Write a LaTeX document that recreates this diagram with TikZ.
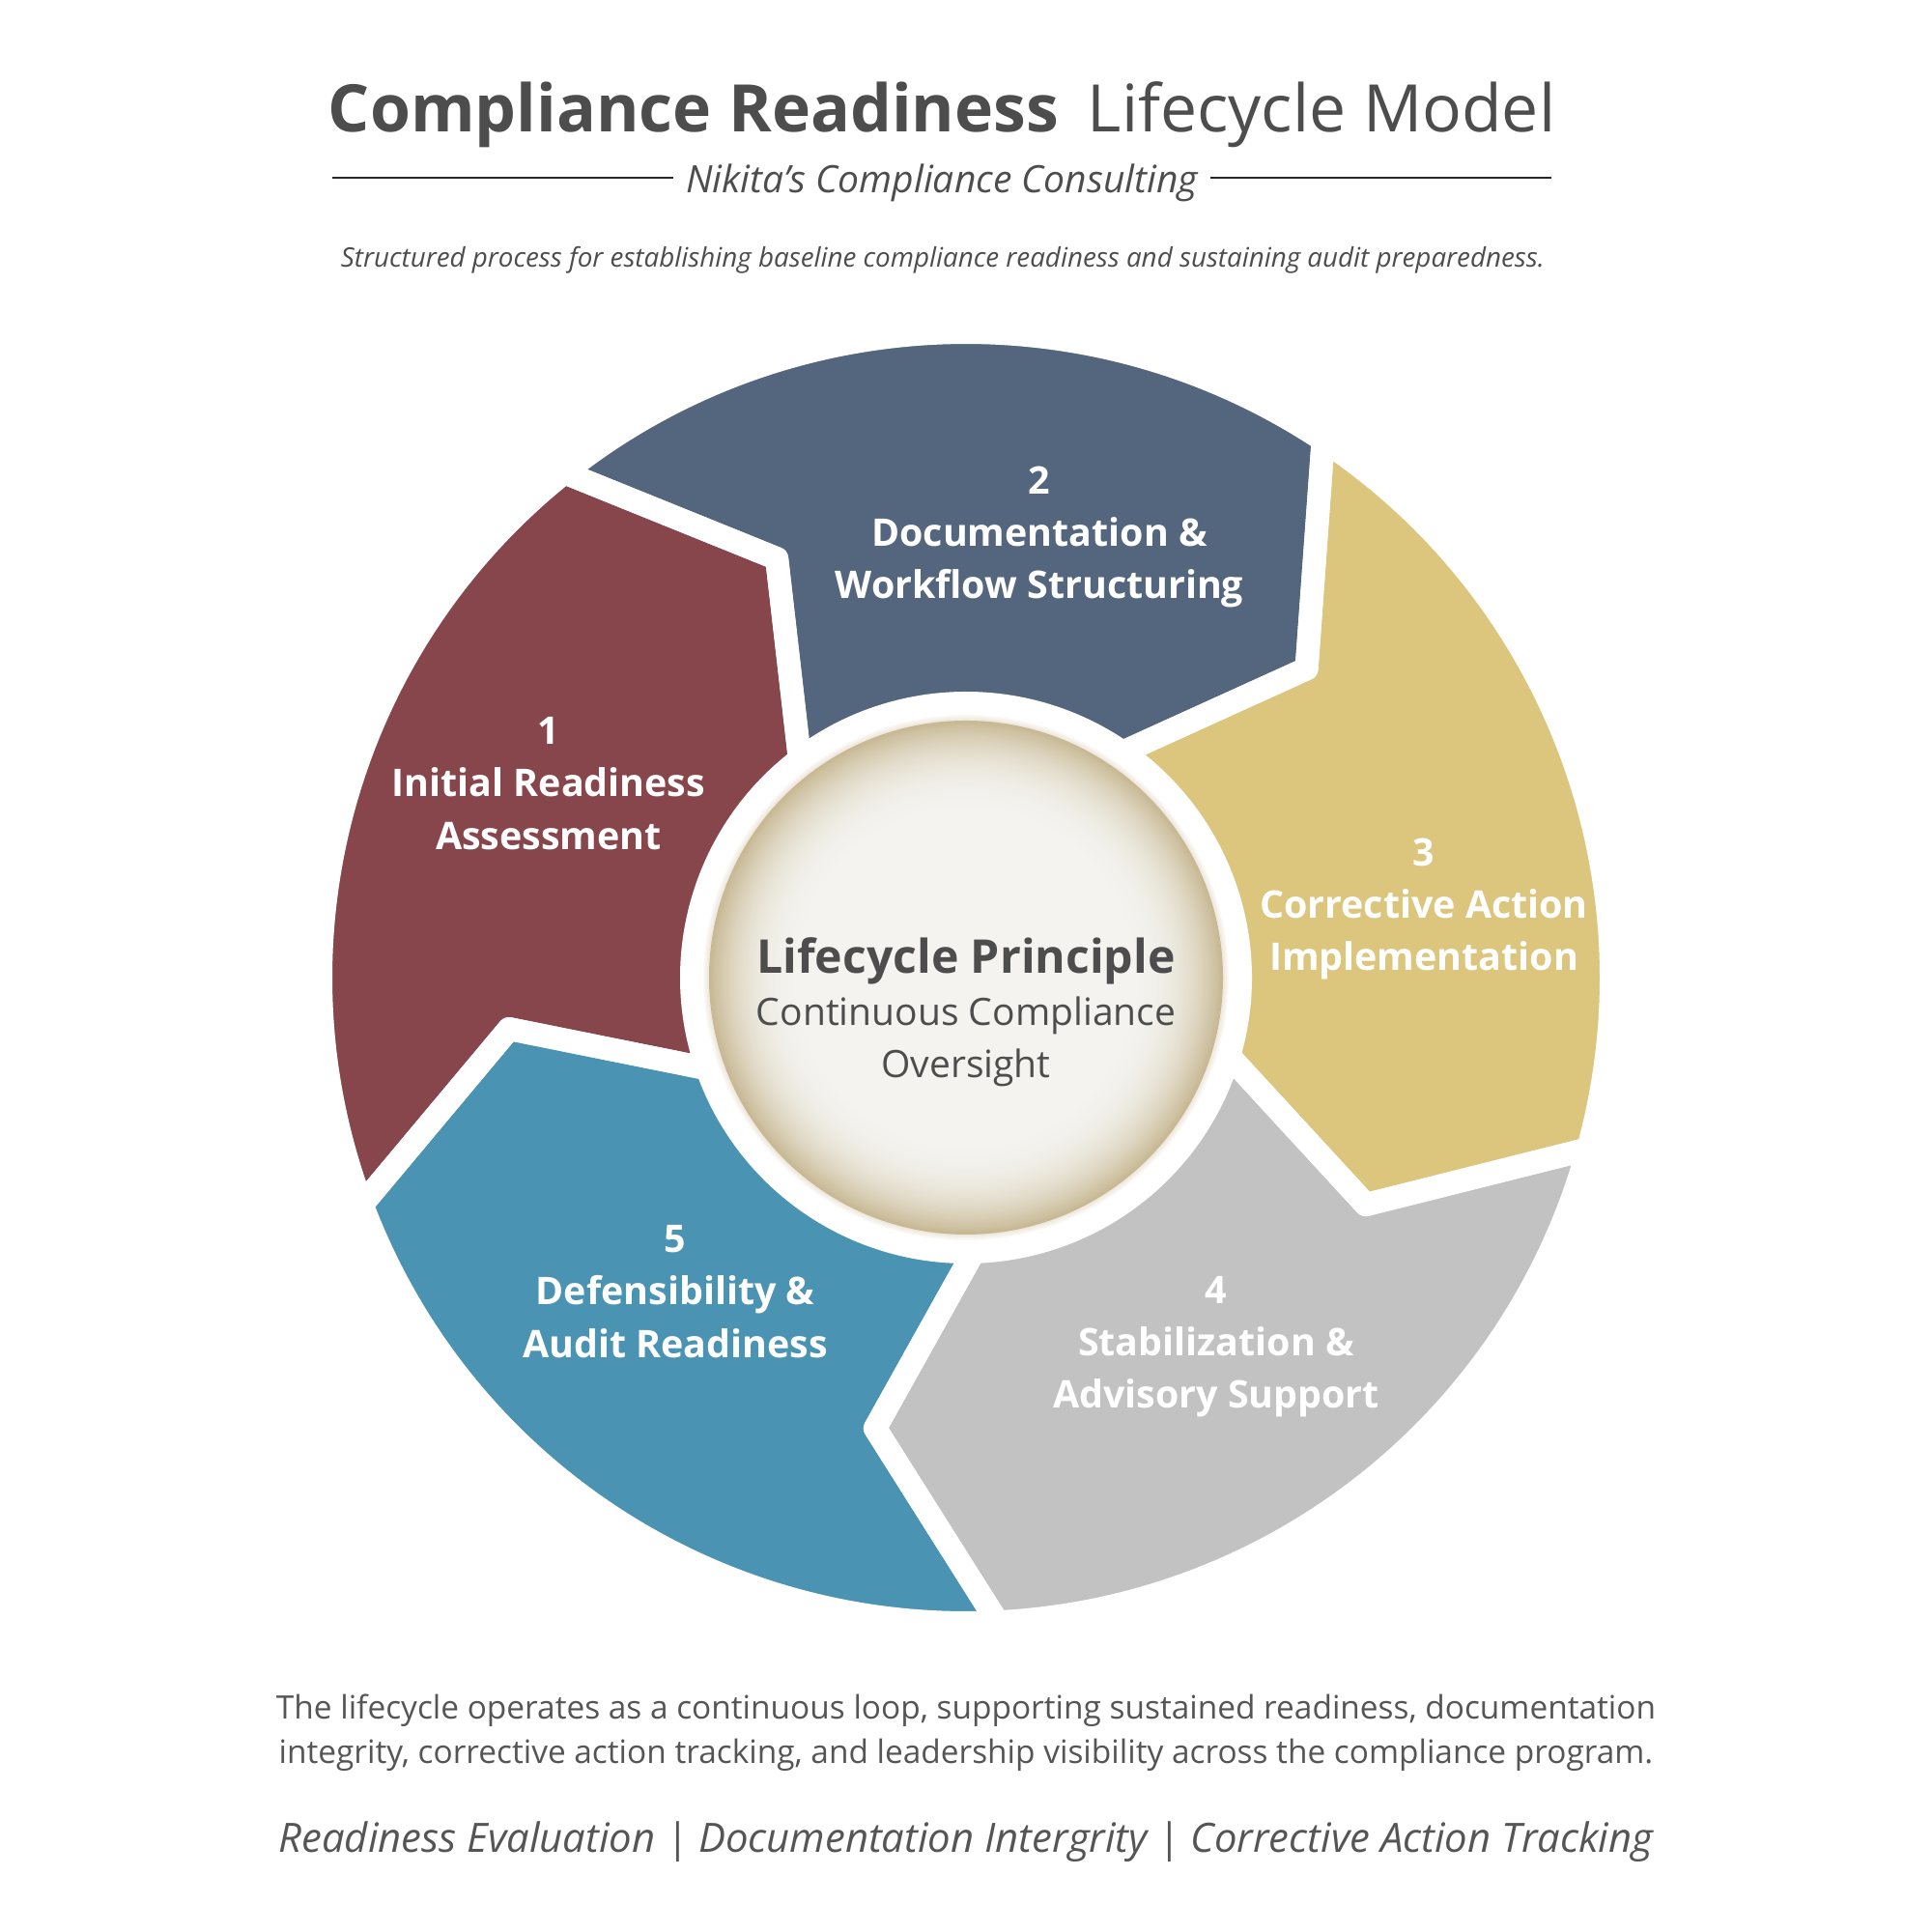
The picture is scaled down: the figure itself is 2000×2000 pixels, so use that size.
\documentclass[tikz,border=0pt]{standalone}
\usepackage{fontspec}
\setmainfont{Open Sans}
\usetikzlibrary{calc}
\definecolor{segA}{HTML}{87464B}
\definecolor{segB}{HTML}{54667D}
\definecolor{segC}{HTML}{DCC57D}
\definecolor{segD}{HTML}{C2C2C2}
\definecolor{segE}{HTML}{4A93B2}
\definecolor{ink}{HTML}{4D4D4D}
\definecolor{inkb}{HTML}{555555}
\definecolor{dA}{HTML}{F4F3EF}
\definecolor{dE}{HTML}{C8B994}
\tikzset{
  seglabel/.style={text=white, align=center, font=\bfseries\fontsize{11.2}{15.4}\selectfont},
  gapline/.style={draw=white, line width=0.24cm, line join=round},
}
\newcommand\segpath[2]{%
  ($(C)+({#1+14.2}:668)$) arc[start angle={#1+14.2}, end angle={#2+14.2}, radius=668]
  -- ($(C)+(#2:476)$) -- ($(C)+({#2+13}:284)$)
  arc[start angle={#2+13}, end angle={#1+13}, radius=284]
  -- ($(C)+(#1:476)$) -- cycle}
\begin{document}
\begin{tikzpicture}[x=0.01cm,y=0.01cm]
\useasboundingbox (0,0) rectangle (2000,2000);
\fill[white] (0,0) rectangle (2000,2000);
\coordinate (C) at (1000,988);
% segments
\fill[segA] \segpath{186.4}{114.3};
\fill[segB] \segpath{114.3}{42.2};
\fill[segC] \segpath{42.2}{-29.6};
\fill[segD] \segpath{-29.6}{-101.4};
\fill[segE] \segpath{-101.4}{-173.6};
\path[gapline] \segpath{186.4}{114.3};
\path[gapline] \segpath{114.3}{42.2};
\path[gapline] \segpath{42.2}{-29.6};
\path[gapline] \segpath{-29.6}{-101.4};
\path[gapline] \segpath{-101.4}{-173.6};
% center disk: soft rim and radial fade
\foreach \k in {1,...,4} {\fill[dE, opacity=0.08] (C) circle ({266+1.5*\k});}
\foreach \i in {0,...,45} {
  \pgfmathsetmacro\p{100*(1-(1-\i/45)^2.6)}
  \fill[dA!\p!dE] (C) circle ({266-2.3*\i});
}
% labels
\node[seglabel] (l1) at (568,1189) {1\\Initial Readiness\\Assessment};
\node[seglabel] (l2) at (1076,1444) {2\\Documentation \&\\Workflow Structuring};
\node[seglabel] (l3) at (1474,1059) {3\\Corrective Action\\Implementation};
\node[seglabel] (l4) at (1259,606) {4\\Stabilization \&\\Advisory Support};
\node[seglabel] (l5) at (699,663) {5\\Defensibility \&\\Audit Readiness};
\node[text=ink, align=center, font=\fontsize{11.1}{15.4}\selectfont] (ctr) at (1000,952)
  {{\bfseries\fontsize{13.7}{15.4}\selectfont Lifecycle Principle}\\Continuous Compliance\\Oversight};
% header
\node[text=ink, font=\fontsize{19.3}{23}\selectfont] (title) at (975,1881)
  {\textbf{Compliance Readiness}\hspace{0.44em}Lifecycle Model};
\node[text=ink, font=\itshape\fontsize{11.1}{13}\selectfont] (sub) at (975,1811) {Nikita’s Compliance Consulting};
\coordinate (lineL) at (344,1816);
\coordinate (lineR) at (1606,1816);
\draw[line width=0.7pt, black!85] (lineL) -- ($(sub.west|-lineL)+(-1,0)$);
\draw[line width=0.7pt, black!85] ($(sub.east|-lineR)+(1,0)$) -- (lineR);
\node[text=ink, font=\itshape\fontsize{7.9}{9}\selectfont] (desc) at (976,1731)
  {Structured process for establishing baseline compliance readiness and sustaining audit preparedness.};
% footer
\node[text=inkb, align=center, font=\fontsize{9.5}{13.1}\selectfont] (foot) at (1000,206)
  {The lifecycle operates as a continuous loop, supporting sustained readiness, documentation\\integrity, corrective action tracking, and leadership visibility across the compliance program.};
\node[text=inkb, font=\itshape\fontsize{11.9}{14}\selectfont] (tag) at (1000,93)
  {Readiness Evaluation | Documentation Intergrity | Corrective Action Tracking};
\end{tikzpicture}
\end{document}
